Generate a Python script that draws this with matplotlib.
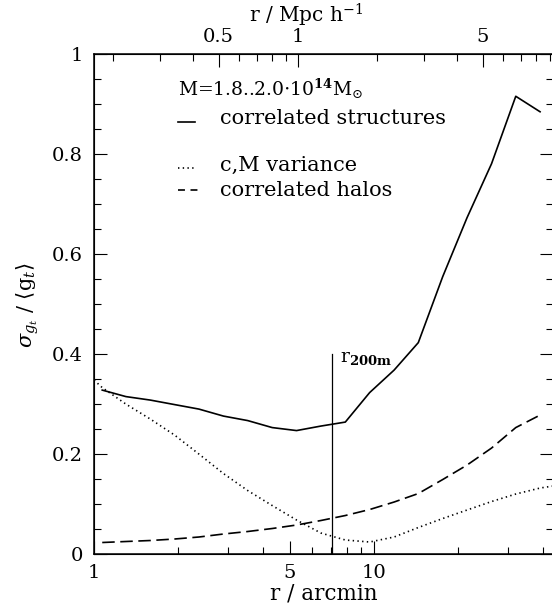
import matplotlib
matplotlib.use("Agg")
import matplotlib.pyplot as plt
from matplotlib.ticker import FixedLocator, NullFormatter, FixedFormatter

plt.rcParams['font.family'] = ['DejaVu Serif']
plt.rcParams['mathtext.fontset'] = 'dejavuserif'
plt.rcParams['lines.scale_dashes'] = False

# radius in arcmin
r_arcmin = [1.07, 1.30, 1.59, 1.94, 2.37, 2.90, 3.54, 4.33, 5.29, 6.46,
            7.90, 9.65, 11.8, 14.4, 17.6, 21.5, 26.3, 32.1, 39.2]
corr_struct = [0.328, 0.315, 0.308, 0.299, 0.290, 0.276, 0.267, 0.253, 0.247, 0.256,
               0.264, 0.323, 0.368, 0.423, 0.555, 0.673, 0.781, 0.916, 0.885]
corr_halos = [0.023, 0.025, 0.027, 0.030, 0.034, 0.040, 0.045, 0.051, 0.058, 0.067,
              0.077, 0.089, 0.104, 0.121, 0.149, 0.178, 0.212, 0.253, 0.278]
r_cm = [1.0, 1.07, 1.30, 1.59, 1.94, 2.37, 2.90, 3.54, 4.33, 5.29, 6.46,
        7.90, 9.65, 11.8, 14.4, 17.6, 21.5, 26.3, 32.1, 39.2, 43.6]
cm_variance = [0.348, 0.333, 0.300, 0.270, 0.238, 0.200, 0.161, 0.127, 0.097, 0.068, 0.042,
               0.028, 0.024, 0.034, 0.053, 0.071, 0.088, 0.105, 0.120, 0.132, 0.136]
r200m = 7.1

bottom_major = [1, 5, 10]
bottom_minor = [2, 3, 4, 6, 7, 8, 9, 20, 30, 40]
top_major = [0.5, 1, 5]
top_minor = [0.2, 0.3, 0.4, 0.6, 0.7, 0.8, 0.9, 2, 3, 4, 6, 7, 8, 9]

W, H = 552, 612
fig = plt.figure(figsize=(W/100, H/100), dpi=100)
x0, x1, y0, y1 = 94, 553, 54.3, 554
ax = fig.add_axes([x0/W, 1 - y1/H, (x1-x0)/W, (y1-y0)/H])

lw = 1.2
ax.plot(r_arcmin, corr_struct, color='black', lw=lw)
ax.plot(r_cm, cm_variance, color='black', lw=1.2, dashes=(1.0, 2.4))
ax.plot(r_arcmin, corr_halos, color='black', lw=lw, dashes=(9, 4))
ax.plot([r200m, r200m], [0, 0.4], color='black', lw=0.9)
ax.text(7.55, 0.385, r'r$_{\mathbf{200m}}$', fontsize=13.5, ha='left', va='baseline')

ax.set_xscale('log')
ax.set_xlim(1, 43.6)
ax.set_ylim(0, 1)
ax.xaxis.set_major_locator(FixedLocator(bottom_major))
ax.xaxis.set_major_formatter(FixedFormatter([str(v) for v in bottom_major]))
ax.xaxis.set_minor_locator(FixedLocator(bottom_minor))
ax.xaxis.set_minor_formatter(NullFormatter())
ax.set_yticks([0, 0.2, 0.4, 0.6, 0.8, 1.0])
ax.set_yticklabels(['0', '0.2', '0.4', '0.6', '0.8', '1'])
ax.set_yticks([i*0.05 for i in range(21)], minor=True)
ax.tick_params(which='both', direction='in', top=False, right=True, width=0.8,
               labelsize=14)
ax.tick_params(which='major', length=9.5)
ax.tick_params(which='minor', length=5)
ax.tick_params(axis='x', pad=7)
ax.tick_params(axis='y', pad=8)
for s in ax.spines.values():
    s.set_linewidth(1.1)

ax2 = ax.twiny()
ax2.set_xscale('log')
ax2.set_xlim(0.1688, 9.245)
ax2.xaxis.set_major_locator(FixedLocator(top_major))
ax2.xaxis.set_major_formatter(FixedFormatter(['0.5', '1', '5']))
ax2.xaxis.set_minor_locator(FixedLocator(top_minor))
ax2.xaxis.set_minor_formatter(NullFormatter())
ax2.tick_params(which='both', direction='in', width=0.8, labelsize=14, pad=6)
ax2.tick_params(which='major', length=9.5)
ax2.tick_params(which='minor', length=5)

# legend block
def fx(px):
    return px / W
def fy(py):
    return 1 - py / H

fs = 15
fig.text(fx(178), fy(89), r'M=1.8..2.0$\cdot$10$^{\mathbf{14}}$M$_{\odot}$', fontsize=13.5, va='center')
fig.add_artist(plt.Line2D([fx(178), fx(195)], [fy(122), fy(122)], color='black', lw=lw))
fig.text(fx(220), fy(118), 'correlated structures', fontsize=fs, va='center')
fig.add_artist(plt.Line2D([fx(178), fx(196)], [fy(168), fy(168)], color='black', lw=1.2, dashes=(1.0, 2.4)))
fig.text(fx(220), fy(165), 'c,M variance', fontsize=fs, va='center')
fig.add_artist(plt.Line2D([fx(178), fx(198)], [fy(190), fy(190)], color='black', lw=lw, dashes=(5, 4)))
fig.text(fx(220), fy(191), 'correlated halos', fontsize=fs, va='center')

fig.text(fx(324), fy(593), 'r / arcmin', fontsize=15.5, ha='center', va='center')
fig.text(fx(306), fy(15), r'r / Mpc h$^{-1}$', fontsize=14.5, ha='center', va='center')
fig.text(fx(28), fy(305), r'$\sigma_{g_t}$ / $\langle$g$_t\rangle$', fontsize=15,
         ha='center', va='center', rotation=90)

fig.savefig('out.png', dpi=100)
